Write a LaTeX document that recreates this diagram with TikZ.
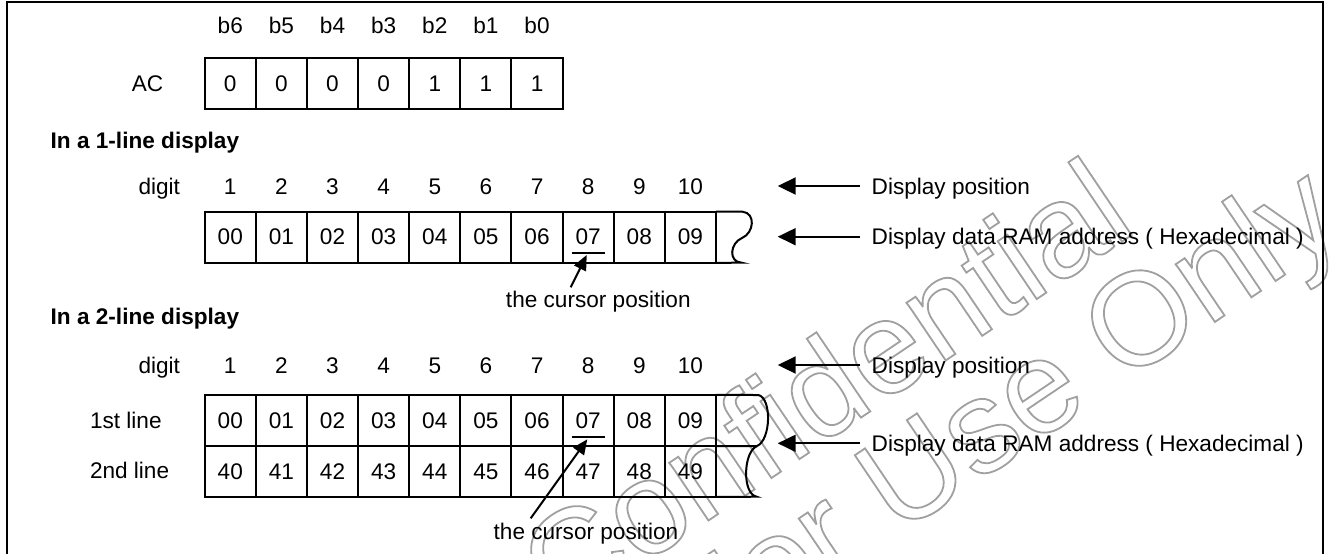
\documentclass[tikz,border=0pt]{standalone}
\usepackage{fontspec}
\setmainfont{Liberation Sans}
\usetikzlibrary{arrows.meta}
\definecolor{wm}{RGB}{160,160,160}
\begin{document}
\begin{tikzpicture}[x=0.5pt,y=-0.5pt,
  every node/.style={font=\fontsize{11.3}{13.5}\selectfont, inner sep=0pt, outer sep=0pt},
  cell/.style={draw, line width=1pt, minimum width=25.565pt, minimum height=25.6pt, anchor=center},
  txt/.style={anchor=base},
  title/.style={anchor=base west, font=\fontsize{11.3}{13.5}\selectfont\bfseries},
  edge/.style={line width=1pt},
  head/.style={line width=1pt, -{Triangle[length=9pt,width=8.5pt]}},
  cur/.style={line width=1pt, -{Triangle[length=7.5pt,width=6.5pt]}},
  wmark/.style={text=wm, font=\fontsize{66}{72}\selectfont, anchor=base, rotate=34}]
\useasboundingbox (0,0) rectangle (1332,553);
% watermark (outlined)
\node[wmark] (wm1) at (850,425) {\special{pdf:code q 1 Tr 0.9 w}Confidential\special{pdf:code Q}};
\node[wmark] (wm2) at (1025,450) {\special{pdf:code q 1 Tr 0.9 w}For Use Only\special{pdf:code Q}};
% frame
\draw[line width=1.2pt] (7,600) -- (7,2) -- (1323,2) -- (1323,600);
% AC register
\node[txt] (aclbl) at (147.5,91) {AC};
\foreach \b [count=\i] in {6,5,4,3,2,1,0}
  \node[txt] (b\i) at ({204.7+51.13*(\i-0.5)},33.3) {b\b};
\foreach \v [count=\i] in {0,0,0,0,1,1,1}
  \node[cell] (ac\i) at ({204.7+51.13*(\i-0.5)},83.35) {\v};
% 1-line display
\node[title] (t1) at (50.7,148) {In a 1-line display};
\node[anchor=base east] (dg1) at (180,194) {digit};
\foreach \i in {1,...,10}
  \node[txt] (p\i) at ({204.7+51.13*(\i-0.5)},194) {\i};
\foreach \v [count=\i] in {00,01,02,03,04,05,06,07,08,09}
  \node[cell] (a\i) at ({204.7+51.13*(\i-0.5)},237.2) {\v};
\draw[edge] (a10.north east) -- (742.5,211.7)
  .. controls (756,213) and (754,233) .. (742,238)
  .. controls (730,243) and (728,262) .. (741.7,262.7) -- (a10.south east);
\coordinate (u1a) at (571.7,252.7);
\coordinate (u1b) at (605,252.7);
\draw[edge] (u1a) -- (u1b);
\node[txt] (cp1) at (598.3,307.5) {the cursor position};
\coordinate (ct1) at (570.7,287.3);
\coordinate (ch1) at (586.7,255);
\draw[cur] (ct1) -- (ch1);
\node[anchor=base west] (dp1) at (871.7,194) {Display position};
\node[anchor=base west] (ra1) at (871.7,244.5) {Display data RAM address ( Hexadecimal )};
\coordinate (dpt1) at (777.7,186);
\coordinate (rat1) at (777.7,236.7);
\draw[head] (860,186) -- (dpt1);
\draw[head] (860,236.7) -- (rat1);
% 2-line display
\node[title] (t2) at (50.7,324) {In a 2-line display};
\node[anchor=base east] (dg2) at (180,373) {digit};
\foreach \i in {1,...,10}
  \node[txt] (q\i) at ({204.7+51.13*(\i-0.5)},373) {\i};
\node[anchor=base west] (l1) at (90,428.3) {1st line};
\node[anchor=base west] (l2) at (90,478.3) {2nd line};
\foreach \v [count=\i] in {00,01,02,03,04,05,06,07,08,09}
  \node[cell] (c\i) at ({204.7+51.13*(\i-0.5)},420.5) {\v};
\foreach \v [count=\i] in {40,41,42,43,44,45,46,47,48,49}
  \node[cell] (d\i) at ({204.7+51.13*(\i-0.5)},471.35) {\v};
\draw[edge] (c10.north east) -- (758.3,395)
  .. controls (772,398) and (771,440) .. (757,446)
  .. controls (743,452) and (742,494) .. (756.7,496.7) -- (d10.south east);
\draw[edge] (c10.south east) -- (757,446);
\coordinate (u2a) at (571.7,436.7);
\coordinate (u2b) at (605,436.7);
\draw[edge] (u2a) -- (u2b);
\node[txt] (cp2) at (586,539) {the cursor position};
\coordinate (ct2) at (530.7,518.3);
\coordinate (ch2) at (587.3,439.3);
\draw[cur] (ct2) -- (ch2);
\node[anchor=base west] (dp2) at (871.7,373) {Display position};
\node[anchor=base west] (ra2) at (871.7,451.5) {Display data RAM address ( Hexadecimal )};
\coordinate (dpt2) at (777.7,365);
\coordinate (rat2) at (777.7,443.3);
\draw[head] (860,365) -- (dpt2);
\draw[head] (860,443.3) -- (rat2);
\end{tikzpicture}
\end{document}
